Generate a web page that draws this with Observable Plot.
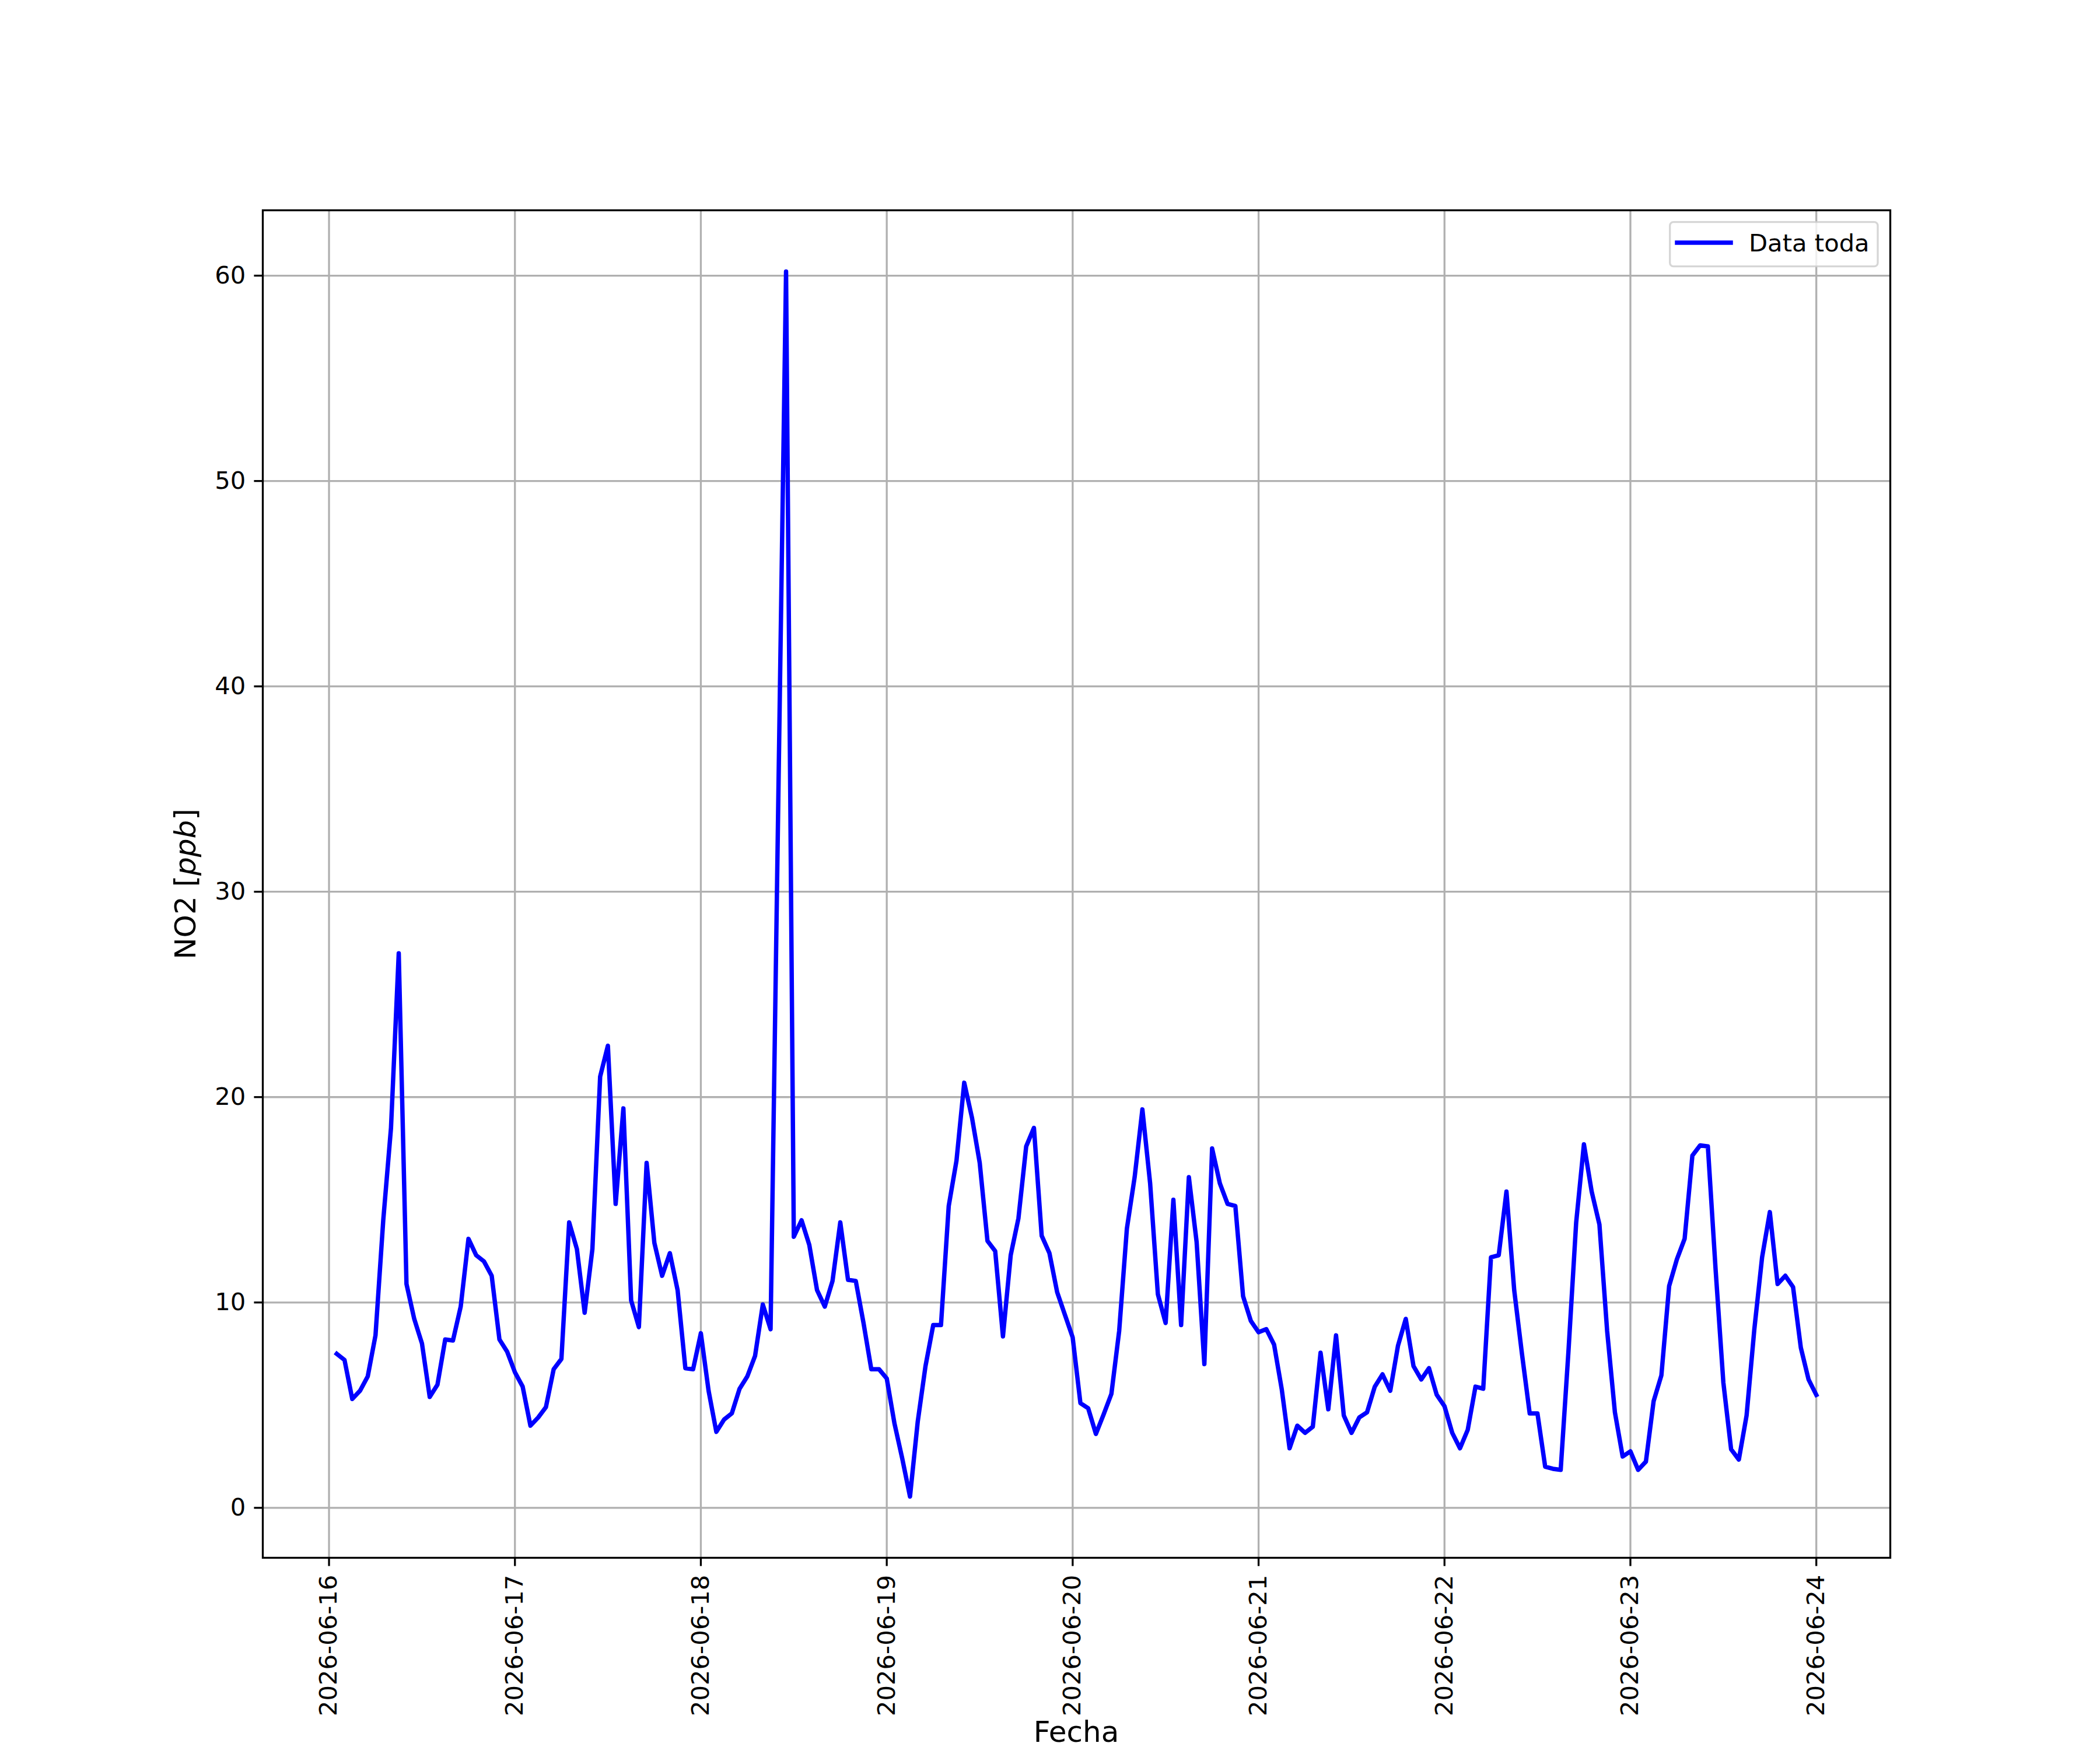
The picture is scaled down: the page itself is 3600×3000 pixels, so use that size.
<!DOCTYPE html>
<html>
<head>
<meta charset="utf-8">
<script src="https://cdn.jsdelivr.net/npm/d3@7"></script>
<script src="https://cdn.jsdelivr.net/npm/@observablehq/plot@0.6"></script>
<style>
html, body { margin: 0; padding: 0; background: #ffffff; }
#fig { width: 3600px; height: 3000px; }
</style>
</head>
<body>
<div id="fig"></div>
<script>
// Hourly NO2 values (ppb), one array per day
const dayLabels = ["2026-06-16", "2026-06-17", "2026-06-18", "2026-06-19", "2026-06-20", "2026-06-21", "2026-06-22", "2026-06-23", "2026-06-24"];
const firstHour = [1, 0, 0, 0, 0, 0, 0, 0, 0];

const no2_0616 = [7.5, 7.2, 5.3, 5.7, 6.4, 8.4, 14.0, 18.5, 27.0, 10.9, 9.2, 8.0, 5.4, 6.0, 8.2, 8.15, 9.8, 13.1, 12.3, 12.0, 11.3, 8.2, 7.6];
const no2_0617 = [6.6, 5.9, 4.0, 4.4, 4.9, 6.75, 7.25, 13.9, 12.6, 9.5, 12.6, 21.0, 22.5, 14.8, 19.45, 10.1, 8.8, 16.8, 12.9, 11.3, 12.4, 10.6, 6.8, 6.75];
const no2_0618 = [8.5, 5.7, 3.7, 4.3, 4.6, 5.8, 6.4, 7.4, 9.9, 8.7, 34.5, 60.2, 13.2, 14.0, 12.8, 10.6, 9.8, 11.05, 13.9, 11.1, 11.05, 9.0, 6.75, 6.75];
const no2_0619 = [6.3, 4.1, 2.4, 0.55, 4.2, 6.9, 8.9, 8.9, 14.7, 16.9, 20.7, 19.0, 16.8, 13.0, 12.5, 8.35, 12.3, 14.1, 17.6, 18.5, 13.25, 12.4, 10.5, 9.4];
const no2_0620 = [8.3, 5.1, 4.85, 3.6, 4.55, 5.55, 8.6, 13.6, 16.1, 19.4, 15.8, 10.4, 9.0, 15.0, 8.9, 16.1, 12.95, 7.0, 17.5, 15.8, 14.8, 14.7, 10.3, 9.1];
const no2_0621 = [8.55, 8.7, 7.95, 5.75, 2.9, 4.0, 3.65, 3.95, 7.55, 4.8, 8.4, 4.5, 3.65, 4.4, 4.65, 5.9, 6.5, 5.7, 7.9, 9.2, 6.9, 6.25, 6.8, 5.5];
const no2_0622 = [4.95, 3.65, 2.9, 3.8, 5.9, 5.8, 12.2, 12.3, 15.4, 10.6, 7.5, 4.6, 4.6, 2.0, 1.9, 1.85, 7.6, 13.9, 17.7, 15.4, 13.8, 8.6, 4.65, 2.5];
const no2_0623 = [2.75, 1.85, 2.25, 5.2, 6.45, 10.8, 12.1, 13.1, 17.15, 17.65, 17.6, 11.6, 6.1, 2.85, 2.35, 4.5, 8.7, 12.2, 14.4, 10.9, 11.3, 10.75, 7.8, 6.25];
const no2_0624 = [5.5];

const dayValues = [no2_0616, no2_0617, no2_0618, no2_0619, no2_0620, no2_0621, no2_0622, no2_0623, no2_0624];

const yTicks = [0, 10, 20, 30, 40, 50, 60];
const seriesName = "Data toda";
const xLabel = "Fecha";

const rows = dayValues.flatMap((vals, i) =>
  vals.map((v, j) => ({
    date: new Date(Date.parse(dayLabels[i] + "T00:00:00Z") + (firstHour[i] + j) * 3600000),
    no2: v
  }))
);
const xTicks = dayLabels.map(d => new Date(d + "T00:00:00Z"));

// matplotlib-style 5% margins
const t0 = d3.min(rows, d => +d.date), t1 = d3.max(rows, d => +d.date);
const tp = (t1 - t0) * 0.05;
const v0 = d3.min(rows, d => d.no2), v1 = d3.max(rows, d => d.no2);
const vp = (v1 - v0) * 0.05;

const fmt = d3.utcFormat("%Y-%m-%d");
const lw = 3.3;
const W = 3600, H = 3000, ML = 450, MR = 360, MT = 360, MB = 330;

const chart = Plot.plot({
  width: W,
  height: H,
  marginLeft: ML,
  marginRight: MR,
  marginTop: MT,
  marginBottom: MB,
  x: { type: "utc", domain: [new Date(t0 - tp), new Date(t1 + tp)] },
  y: { domain: [v0 - vp, v1 + vp] },
  style: { fontFamily: "DejaVu Sans", fontSize: "41.7px", background: "#ffffff", color: "#000000", overflow: "visible" },
  marks: [
    Plot.gridY(yTicks, { stroke: "#b0b0b0", strokeOpacity: 1, strokeWidth: lw }),
    Plot.gridX(xTicks, { stroke: "#b0b0b0", strokeOpacity: 1, strokeWidth: lw }),
    Plot.line(rows, { x: "date", y: "no2", stroke: "#0000ff", strokeWidth: 7.5, strokeLinejoin: "round", strokeLinecap: "square" }),
    Plot.frame({ stroke: "#000000", strokeWidth: lw }),
    Plot.axisX(xTicks, {
      tickFormat: fmt, tickRotate: -90, tickSize: 14.6, tickPadding: 14.6, strokeWidth: lw,
      fontSize: 41.7, fill: "#000000", label: xLabel, labelAnchor: "center", labelOffset: 300, labelArrow: "none"
    }),
    Plot.axisY(yTicks, {
      tickSize: 14.6, tickPadding: 14.6, strokeWidth: lw,
      fontSize: 41.7, fill: "#000000", label: "NO2 [ppb]", labelAnchor: "center", labelOffset: 151, labelArrow: "none"
    })
  ]
});

document.getElementById("fig").appendChild(chart);
const svg = d3.select(chart);

// axis labels: 12pt and mathtext italic unit
svg.selectAll("text").each(function () {
  const t = d3.select(this);
  const s = t.text();
  if (s === xLabel) {
    d3.select(this.parentNode).attr("transform", null);
    t.attr("font-size", "50px").style("font-size", "50px")
      .attr("transform", `translate(${(ML + W - MR) / 2},2986)`)
      .attr("x", null).attr("y", null).attr("dy", null)
      .attr("text-anchor", "middle");
    t.selectAll("tspan").attr("dy", null).attr("x", null).attr("y", null);
  } else if (s.startsWith("NO2")) {
    t.attr("font-size", "50px").style("font-size", "50px");
    t.text(null);
    t.append("tspan").text("NO2 [");
    t.append("tspan").attr("font-style", "italic").text("ppb");
    t.append("tspan").text("]");
  }
});

// legend (upper right)
const lg = svg.append("g").attr("class", "legend").attr("text-anchor", "start");
lg.append("rect")
  .attr("x", 2862.7).attr("y", 380.7).attr("width", 356.3).attr("height", 76).attr("rx", 6)
  .attr("fill", "#ffffff").attr("fill-opacity", 0.8)
  .attr("stroke", "#cccccc").attr("stroke-opacity", 0.8).attr("stroke-width", lw);
lg.append("line")
  .attr("x1", 2875).attr("x2", 2967).attr("y1", 416).attr("y2", 416)
  .attr("stroke", "#0000ff").attr("stroke-width", 7.5).attr("stroke-linecap", "square");
lg.append("text")
  .attr("x", 2998).attr("y", 431).attr("font-size", "41.7px").attr("fill", "#000000")
  .attr("text-anchor", "start")
  .text(seriesName);
</script>
</body>
</html>
